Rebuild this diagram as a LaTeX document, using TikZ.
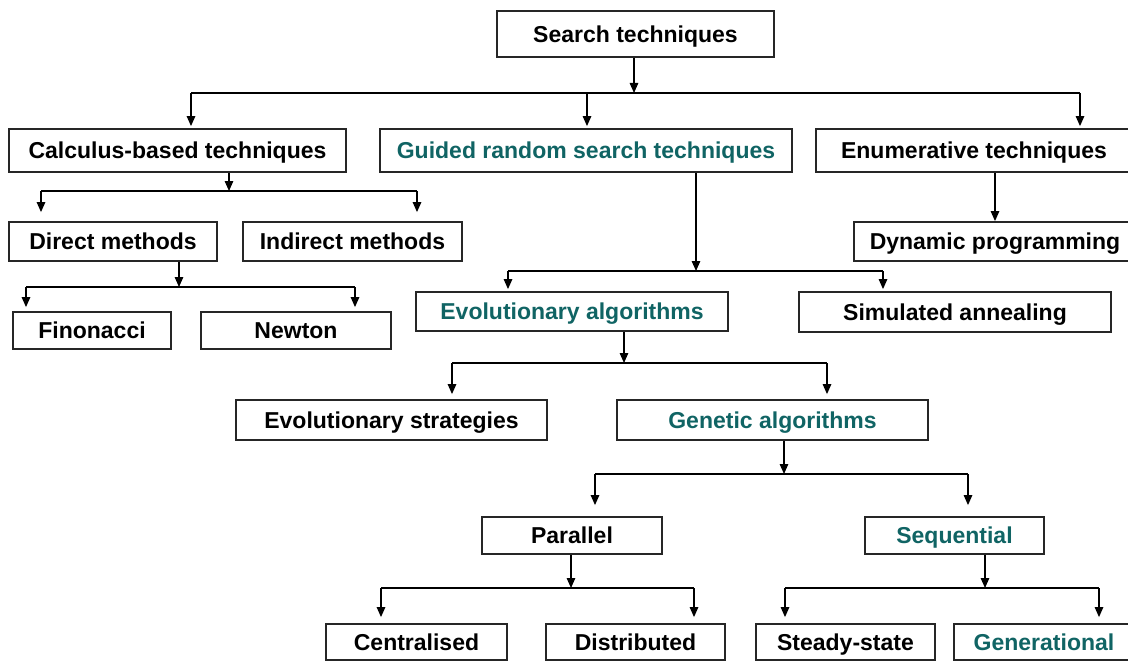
\documentclass[tikz,border=0pt]{standalone}
\usepackage{fontspec}
\setmainfont{Liberation Sans}
\usepackage{xcolor}
\usetikzlibrary{arrows.meta}
\definecolor{teal}{RGB}{16,100,100}

\begin{document}
\begin{tikzpicture}[x=1pt,y=-1pt,
  box/.style={draw=black!85, line width=1.8pt, inner sep=0pt, text height=16.5pt, text depth=0pt, font=\fontsize{23}{27}\selectfont\bfseries, text=black},
  hl/.style={text=teal},
  link/.style={line width=1.3pt},
  arr/.style={line width=1.3pt, -{Triangle[length=10pt,width=8.5pt]}}]
\clip (0,0) rectangle (1128,661);
\fill[white] (0,0) rectangle (1128,661);
\node[box, minimum width=277pt, minimum height=46pt] (search) at (635.5,34) {Search techniques};
\node[box, minimum width=337pt, minimum height=43pt] (calc) at (177.5,150.5) {Calculus-based techniques};
\node[box, hl, minimum width=412pt, minimum height=43pt] (guided) at (586,150.5) {Guided random search techniques};
\node[box, minimum width=316pt, minimum height=43pt] (enum) at (974,150.5) {Enumerative techniques};
\node[box, minimum width=208pt, minimum height=39pt] (direct) at (113,241.5) {Direct methods};
\node[box, minimum width=219pt, minimum height=39pt] (indirect) at (352.5,241.5) {Indirect methods};
\node[box, minimum width=282pt, minimum height=39pt] (dynprog) at (995,241.5) {Dynamic programming};
\node[box, minimum width=158pt, minimum height=37pt] (fibo) at (92,330.5) {Finonacci};
\node[box, minimum width=190pt, minimum height=37pt] (newton) at (296,330.5) {Newton};
\node[box, hl, minimum width=312pt, minimum height=39pt] (evoalg) at (572,311.5) {Evolutionary algorithms};
\node[box, minimum width=312pt, minimum height=40pt] (simann) at (955,312) {Simulated annealing};
\node[box, minimum width=311pt, minimum height=40pt] (evostrat) at (391.5,420) {Evolutionary strategies};
\node[box, hl, minimum width=311pt, minimum height=40pt] (genalg) at (772.5,420) {Genetic algorithms};
\node[box, minimum width=180pt, minimum height=37pt] (parallel) at (572,535.5) {Parallel};
\node[box, hl, minimum width=179pt, minimum height=37pt] (sequential) at (954.5,535.5) {Sequential};
\node[box, minimum width=181pt, minimum height=36pt] (central) at (416.5,642) {Centralised};
\node[box, minimum width=179pt, minimum height=36pt] (distrib) at (635.5,642) {Distributed};
\node[box, minimum width=179pt, minimum height=36pt] (steady) at (845.5,642) {Steady-state};
\node[box, hl, minimum width=180pt, minimum height=36pt] (generational) at (1044,642) {Generational};

\coordinate (s0) at (634,93);
\coordinate (sL) at (191,93);
\coordinate (sM) at (587,93);
\coordinate (sR) at (1080,93);
\draw[arr] (search.south -| s0) -- (s0);
\draw[link] (sL) -- (sR);
\draw[arr] (sL) -- ([yshift=2pt]sL |- calc.north);
\draw[arr] (sM) -- ([yshift=2pt]sM |- guided.north);
\draw[arr] (sR) -- ([yshift=2pt]sR |- enum.north);

\coordinate (c0) at (229,191);
\coordinate (cL) at (41,191);
\coordinate (cR) at (417,191);
\draw[arr] (calc.south -| c0) -- (c0);
\draw[link] (cL) -- (cR);
\draw[arr] (cL) -- ([yshift=9pt]cL |- direct.north);
\draw[arr] (cR) -- ([yshift=9pt]cR |- indirect.north);

\coordinate (d0) at (179,287);
\coordinate (dL) at (26,287);
\coordinate (dR) at (355,287);
\draw[arr] (direct.south -| d0) -- (d0);
\draw[link] (dL) -- (dR);
\draw[arr] (dL) -- ([yshift=4pt]dL |- fibo.north);
\draw[arr] (dR) -- ([yshift=4pt]dR |- newton.north);

\coordinate (e0) at (995,172);
\draw[arr] (enum.south -| e0) -- (e0 |- dynprog.north);

\coordinate (g0) at (696,271);
\coordinate (gL) at (508,271);
\coordinate (gR) at (883,271);
\draw[arr] (guided.south -| g0) -- (g0);
\draw[link] (gL) -- (gR);
\draw[arr] (gL) -- ([yshift=2pt]gL |- evoalg.north);
\draw[arr] (gR) -- ([yshift=2pt]gR |- simann.north);

\coordinate (a0) at (624,363);
\coordinate (aL) at (452,363);
\coordinate (aR) at (827,363);
\draw[arr] (evoalg.south -| a0) -- (a0);
\draw[link] (aL) -- (aR);
\draw[arr] (aL) -- ([yshift=5pt]aL |- evostrat.north);
\draw[arr] (aR) -- ([yshift=5pt]aR |- genalg.north);

\coordinate (n0) at (784,474);
\coordinate (nL) at (595,474);
\coordinate (nR) at (968,474);
\draw[arr] (genalg.south -| n0) -- (n0);
\draw[link] (nL) -- (nR);
\draw[arr] (nL) -- ([yshift=11pt]nL |- parallel.north);
\draw[arr] (nR) -- ([yshift=11pt]nR |- sequential.north);

\coordinate (p0) at (571,588);
\coordinate (pL) at (381,588);
\coordinate (pR) at (694,588);
\draw[arr] (parallel.south -| p0) -- (p0);
\draw[link] (pL) -- (pR);
\draw[arr] (pL) -- ([yshift=6pt]pL |- central.north);
\draw[arr] (pR) -- ([yshift=6pt]pR |- distrib.north);

\coordinate (q0) at (985,588);
\coordinate (qL) at (785,588);
\coordinate (qR) at (1099,588);
\draw[arr] (sequential.south -| q0) -- (q0);
\draw[link] (qL) -- (qR);
\draw[arr] (qL) -- ([yshift=6pt]qL |- steady.north);
\draw[arr] (qR) -- ([yshift=6pt]qR |- generational.north);
\end{tikzpicture}
\end{document}
